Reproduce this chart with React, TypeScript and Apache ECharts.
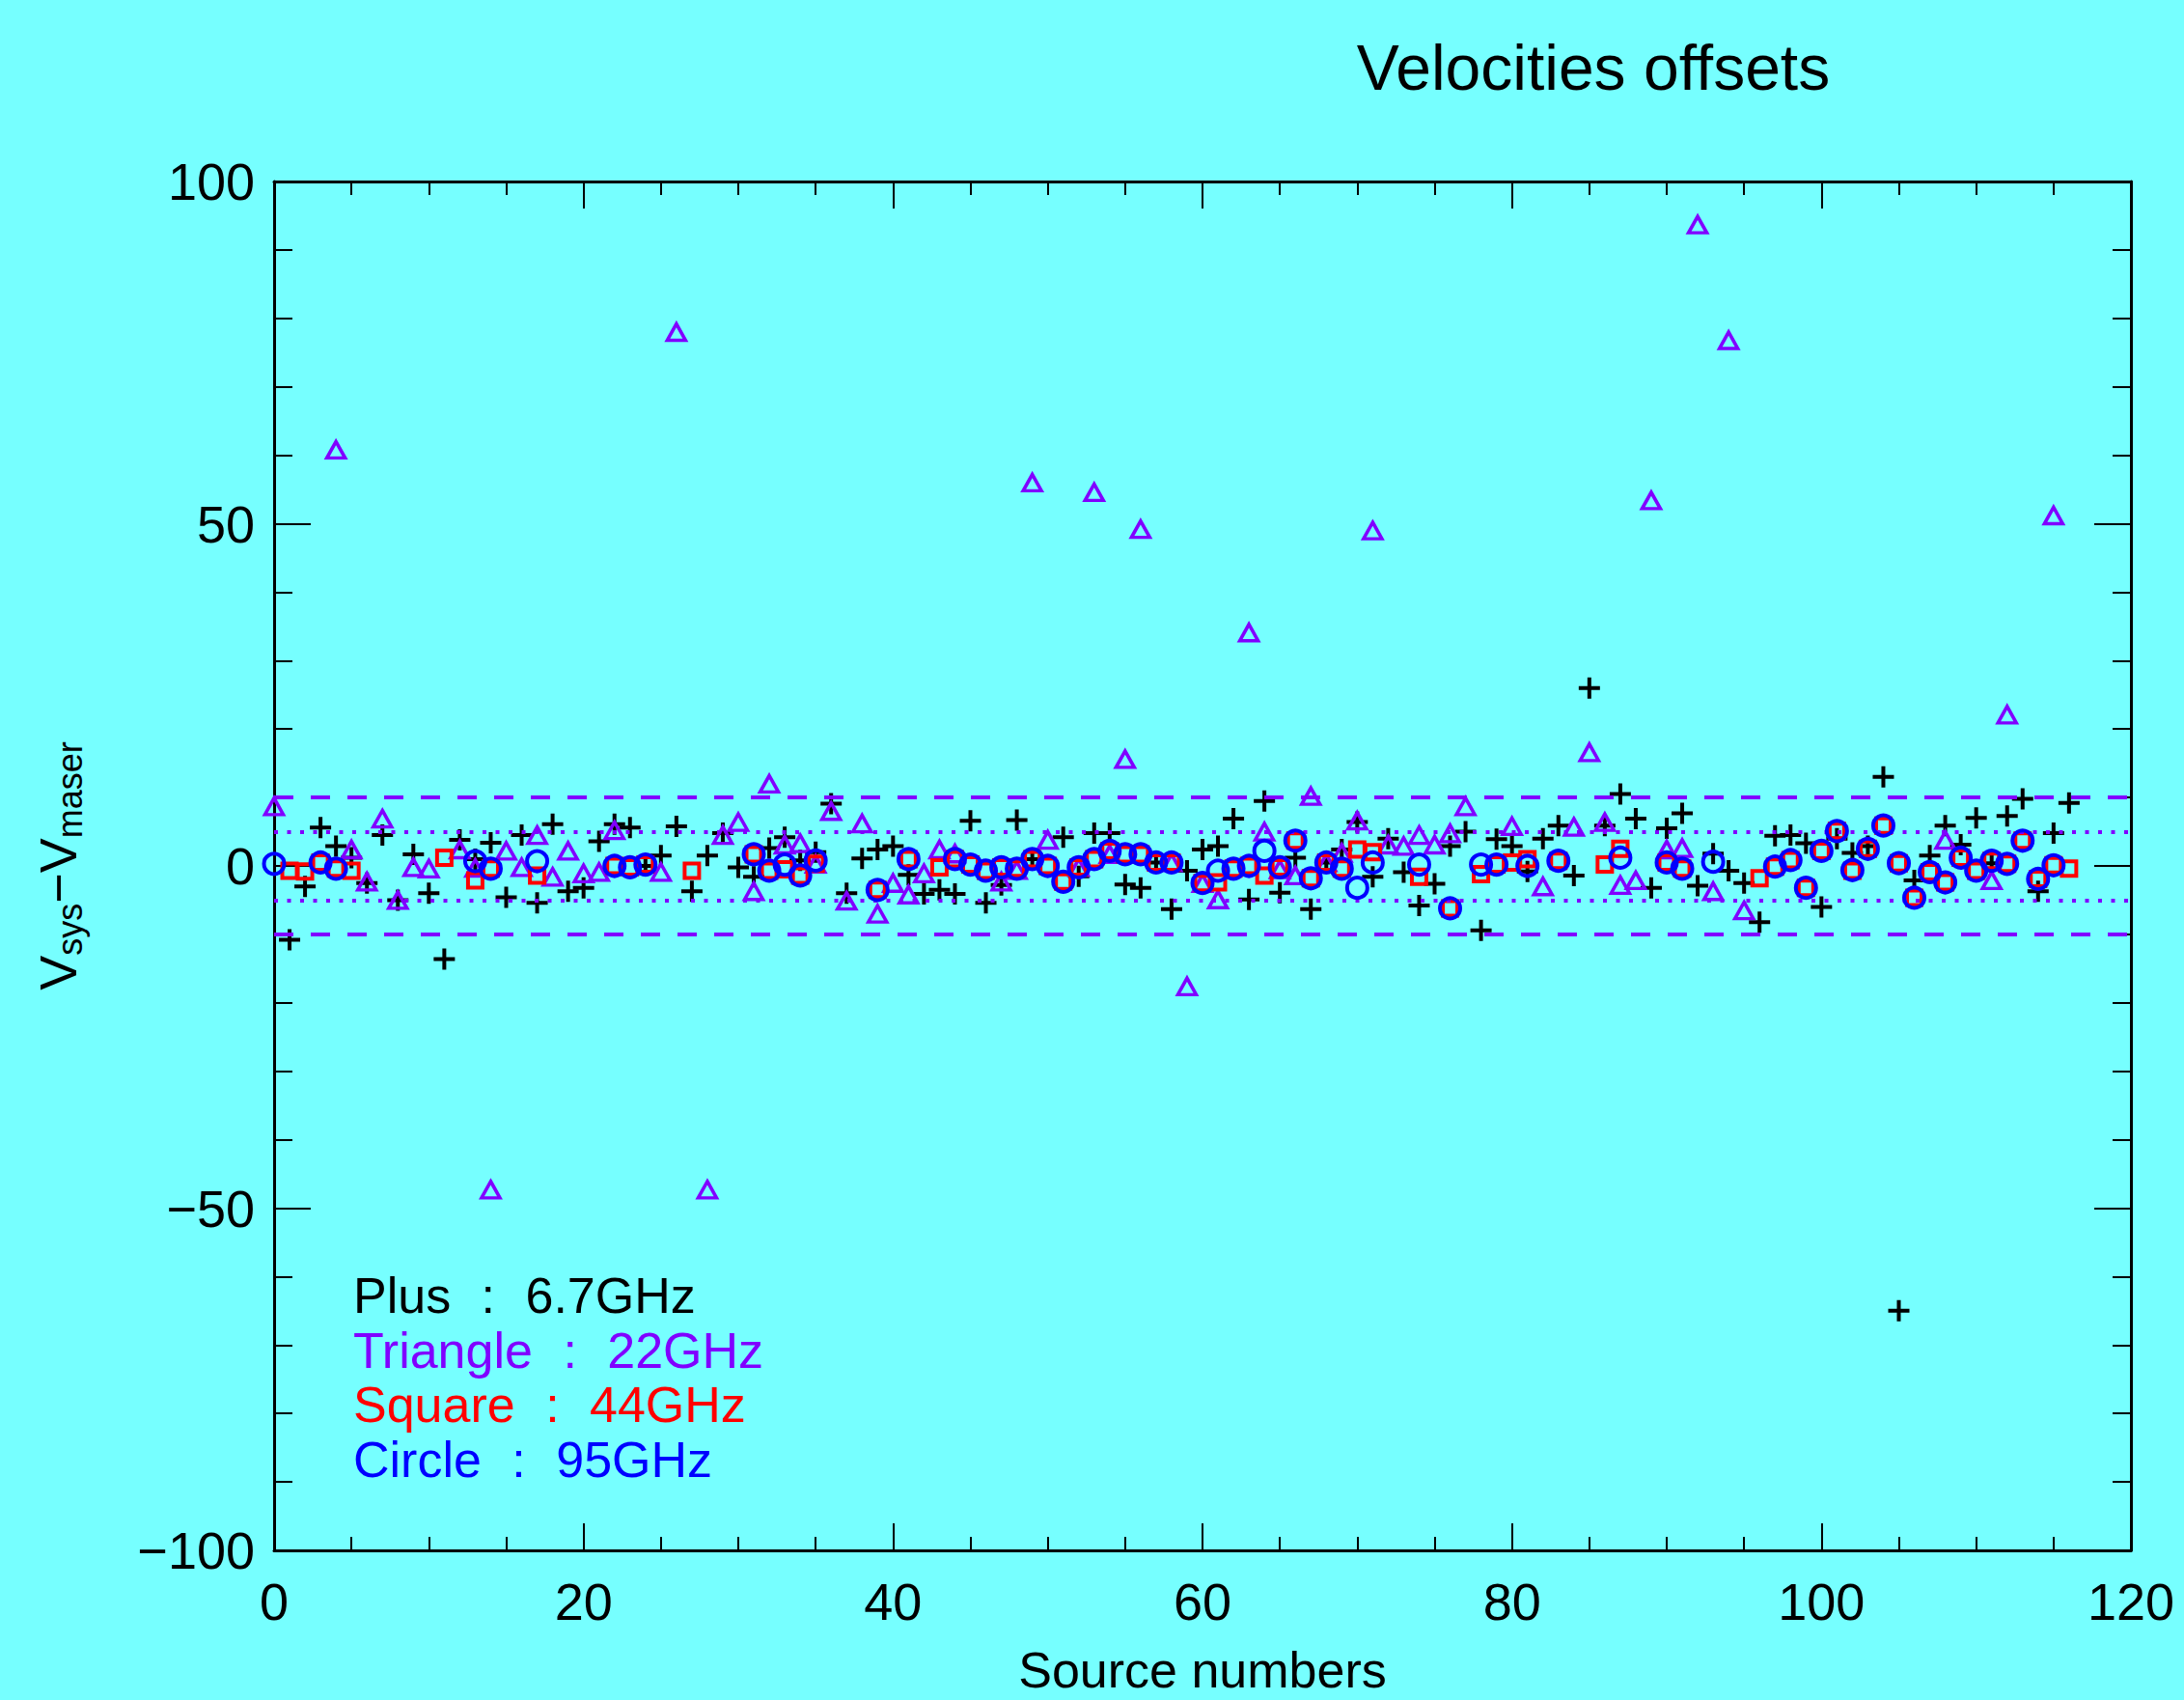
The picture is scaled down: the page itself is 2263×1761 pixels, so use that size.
import React, { useEffect, useRef } from 'react';
import * as echarts from 'echarts';

// [source number, Vsys - Vmaser]
const plus67: number[][] = [
  [1, -10.8], [2, -3.0], [3, 5.6], [4, 2.9], [5, 1.2], [6, -2.5], [7, 4.5], [8, -5.0], [9, 1.7], [10, -4.0],
  [11, -13.6], [12, 3.8], [13, 1.0], [14, 3.4], [15, -4.6], [16, 4.5], [17, -5.4], [18, 6.1], [19, -3.7], [20, -3.2],
  [21, 3.6], [22, 6.1], [23, 5.6], [24, 0.0], [25, 1.5], [26, 5.8], [27, -3.7], [28, 1.5], [29, 4.8], [30, -0.2],
  [31, -1.6], [32, 2.6], [33, 4.2], [34, 0.8], [35, 2.0], [36, 9.1], [37, -4.0], [38, 1.1], [39, 2.4], [40, 2.9],
  [41, -1.3], [42, -4.1], [43, -3.5], [44, -4.1], [45, 6.6], [46, -5.4], [47, -2.8], [48, 6.7], [49, 1.0],
  [51, 4.2], [52, -1.5], [53, 4.8], [54, 4.8], [55, -2.7], [56, -3.2], [57, 0.5], [58, -6.3], [59, -0.7], [60, 2.4],
  [61, 2.9], [62, 6.9], [63, -4.9], [64, 9.5], [65, -3.9], [66, 1.2], [67, -6.3], [68, 0.5], [69, 2.4], [70, 6.4],
  [71, -1.6], [72, 4.0], [73, -0.9], [74, -5.8], [75, -2.6], [76, 2.9], [77, 5.0], [78, -9.4], [79, 3.9], [80, 2.9],
  [81, -0.8], [82, 4.0], [83, 5.9], [84, -1.4], [85, 26.0], [86, 5.9], [87, 10.5], [88, 6.9], [89, -3.2], [90, 5.5],
  [91, 7.7], [92, -2.9], [93, 1.8], [94, -0.7], [95, -2.5], [96, -8.2], [97, 4.4], [98, 4.5], [99, 3.3], [100, -6.0],
  [101, 4.0], [102, 1.9], [103, 2.9], [104, 13.0], [105, -65.0], [106, -2.1], [107, 1.5], [108, 5.9], [109, 3.1], [110, 7.0],
  [111, 0.4], [112, 7.3], [113, 9.8], [114, -3.7], [115, 4.8], [116, 9.2],
];

const tri22: number[][] = [
  [0, 8.7], [4, 60.8], [5, 2.4], [6, -2.3], [7, 6.9], [8, -5.0], [9, -0.2], [10, -0.4], [12, 2.4], [13, -0.3], [14, -47.3],
  [15, 2.2], [16, -0.2], [17, 4.5], [18, -1.6], [19, 2.2], [20, -1.1], [21, -0.9], [22, 5.2], [25, -0.9], [26, 78.0],
  [28, -47.3], [29, 4.5], [30, 6.4], [31, -3.7], [32, 12.0], [33, 3.1], [34, 3.3], [35, 0.3], [36, 8.0], [37, -5.1],
  [38, 6.2], [39, -7.0], [40, -2.5], [41, -4.2], [42, -1.1], [43, 2.4], [44, 1.8], [47, -2.3], [48, -0.6], [49, 56.0],
  [50, 3.8], [52, -0.2], [53, 54.6], [54, 1.7], [55, 15.6], [56, 49.2], [58, 0.5], [59, -17.6], [60, -2.5], [61, -4.9],
  [63, 34.1], [64, 5.0], [65, -0.5], [66, -1.4], [67, 10.2], [68, 0.5], [69, 1.9], [70, 6.6], [71, 49.0], [72, 3.1],
  [73, 2.9], [74, 4.5], [75, 3.1], [76, 4.75], [77, 8.7], [80, 5.8], [82, -3.0], [84, 5.7], [85, 16.6], [86, 6.4],
  [87, -2.8], [88, -2.1], [89, 53.4], [90, 2.4], [91, 2.6], [92, 93.7], [93, -3.7], [94, 76.8], [95, -6.5], [108, 3.8],
  [111, -2.1], [112, 22.1], [115, 51.2],
];

const sq44: number[][] = [
  [1, -0.7], [2, -0.8], [3, 0.5], [4, -0.4], [5, -0.7], [11, 1.2], [13, -2.1], [14, -0.4], [17, -1.4], [22, 0.0],
  [23, -0.2], [24, 0.2], [27, -0.7], [31, 1.7], [32, -0.7], [33, -0.5], [34, -1.4], [35, 0.3], [39, -3.5], [41, 1.0],
  [43, -0.2], [44, 1.0], [45, 0.2], [46, -0.7], [47, -0.2], [48, -0.4], [49, 1.0], [50, 0.0], [51, -2.3], [52, -0.2],
  [53, 1.0], [54, 2.2], [55, 1.7], [56, 1.7], [57, 0.5], [58, 0.5], [60, -2.5], [61, -2.4], [62, -0.4], [63, 0.0],
  [64, -1.4], [65, -0.2], [66, 3.7], [67, -1.8], [68, 0.5], [69, -0.4], [70, 2.4], [71, 2.0], [74, -1.6], [76, -6.2],
  [78, -1.2], [79, 0.2], [80, 0.5], [81, 1.0], [83, 0.75], [86, 0.2], [87, 2.5], [90, 0.5], [91, -0.4], [96, -1.8],
  [97, -0.1], [98, 0.85], [99, -3.2], [100, 2.2], [101, 5.1], [102, -0.7], [103, 2.5], [104, 5.9], [105, 0.4], [106, -4.65],
  [107, -0.9], [108, -2.4], [109, 1.2], [110, -0.7], [111, 0.75], [112, 0.3], [113, 3.7], [114, -1.9], [115, 0.1], [116, -0.4],
];

const circ95: number[][] = [
  [0, 0.3], [3, 0.5], [4, -0.4], [13, 0.7], [14, -0.4], [17, 0.7], [22, 0.0], [23, -0.2], [24, 0.2], [31, 1.7],
  [32, -0.7], [33, 0.2], [34, -1.4], [35, 0.8], [39, -3.5], [41, 1.0], [44, 1.0], [45, 0.2], [46, -0.7], [47, -0.2],
  [48, -0.4], [49, 1.0], [50, 0.0], [51, -2.3], [52, -0.2], [53, 1.0], [54, 2.2], [55, 1.7], [56, 1.7], [57, 0.5],
  [58, 0.5], [60, -2.5], [61, -0.7], [62, -0.4], [63, 0.0], [64, 2.2], [65, -0.2], [66, 3.7], [67, -1.8], [68, 0.5],
  [69, -0.4], [70, -3.2], [71, 0.5], [74, 0.2], [76, -6.2], [78, 0.2], [79, 0.2], [81, 0.0], [83, 0.75], [87, 1.2],
  [90, 0.5], [91, -0.4], [93, 0.6], [97, -0.1], [98, 0.85], [99, -3.2], [100, 2.2], [101, 5.1], [102, -0.6], [103, 2.5],
  [104, 5.9], [105, 0.4], [106, -4.65], [107, -0.9], [108, -2.4], [109, 1.2], [110, -0.7], [111, 0.75], [112, 0.3], [113, 3.7],
  [114, -1.9], [115, 0.1],
];

const dashedLevels = [10, -10];
const dottedLevels = [5, -5];
const legendNames = ['Plus', 'Triangle', 'Square', 'Circle'];
const legendBands = ['6.7GHz', '22GHz', '44GHz', '95GHz'];

const BG = '#76ffff';
const PURPLE = '#8000ff';
const FONT = '"Liberation Sans", Arial, sans-serif';
const PLUS_PATH = 'path://M9,0h4v9h9v4h-9v9h-4v-9h-9v-4h9z';

export default function App() {
  const ref = useRef<HTMLDivElement>(null);
  useEffect(() => {
    if (!ref.current) return;
    const chart = echarts.init(ref.current, undefined, { renderer: 'svg' });
    const minus = (v: number) => (v < 0 ? '\u2212' + Math.abs(v) : String(v));
    const xBase = {
      type: 'value', min: 0, max: 120, interval: 20,
      axisLine: { show: true, onZero: false, lineStyle: { color: '#000', width: 3 } },
      axisTick: { show: true, inside: true, length: 28, lineStyle: { color: '#000', width: 2 } },
      minorTick: { show: true, splitNumber: 4, length: 14, lineStyle: { color: '#000', width: 2 } },
      splitLine: { show: false },
    };
    const yBase = {
      type: 'value', min: -100, max: 100, interval: 50,
      axisLine: { show: true, onZero: false, lineStyle: { color: '#000', width: 3 } },
      axisTick: { show: true, inside: true, length: 38, lineStyle: { color: '#000', width: 2 } },
      minorTick: { show: true, splitNumber: 5, length: 19, lineStyle: { color: '#000', width: 2 } },
      splitLine: { show: false },
    };
    const legendColors = ['#000000', PURPLE, '#ff0000', '#0000ff'];
    chart.setOption({
      animation: false,
      backgroundColor: BG,
      grid: { left: 284, top: 188, right: 55, bottom: 155, containLabel: false },
      xAxis: [
        {
          ...xBase, position: 'bottom',
          axisLabel: { show: true, margin: 26, color: '#000', fontSize: 54, fontFamily: FONT },
          name: 'Source numbers', nameLocation: 'middle', nameGap: 98,
          nameTextStyle: { color: '#000', fontSize: 52, fontFamily: FONT },
        },
        { ...xBase, position: 'top', axisLabel: { show: false } },
      ],
      yAxis: [
        {
          ...yBase, position: 'left',
          axisLabel: { show: true, margin: 20, color: '#000', fontSize: 54, fontFamily: FONT, formatter: minus },
        },
        { ...yBase, position: 'right', axisLabel: { show: false } },
      ],
      graphic: [
        {
          type: 'text', x: 1651, y: 70,
          style: { text: 'Velocities offsets', fill: '#000', font: `66px ${FONT}`, align: 'center', verticalAlign: 'middle' },
        },
        {
          type: 'text', x: 60, y: 897, rotation: Math.PI / 2,
          style: {
            text: '{v|V}{s|sys}{v|\u2212V}{s|maser}', align: 'center', verticalAlign: 'middle',
            rich: {
              v: { fill: '#000', fontSize: 54, fontFamily: FONT, lineHeight: 60 },
              s: { fill: '#000', fontSize: 36, fontFamily: FONT, lineHeight: 30, verticalAlign: 'bottom' },
            },
          },
        },
        ...legendNames.map((n, i) => ({
          type: 'text', x: 366, y: 1342 + i * 56.5,
          style: {
            text: `{t|${n} }{c|:}{t| ${legendBands[i]}}`, align: 'left', verticalAlign: 'middle',
            rich: {
              t: { fill: legendColors[i], fontSize: 52, fontFamily: FONT },
              c: { fill: legendColors[i], fontSize: 52, fontFamily: FONT, padding: [0, 17, 0, 17] },
            },
          },
        })),
      ],
      series: [
        {
          type: 'scatter', name: 'levels', data: [], z: 1, silent: true,
          markLine: {
            silent: true, symbol: ['none', 'none'], label: { show: false },
            data: [
              ...dashedLevels.map((v) => ({ yAxis: v, lineStyle: { color: PURPLE, width: 4, type: [20, 18] } })),
              ...dottedLevels.map((v) => ({ yAxis: v, lineStyle: { color: PURPLE, width: 4, type: [4, 9.5] } })),
            ],
          },
        },
        {
          type: 'scatter', name: 'Plus : 6.7GHz', data: plus67, z: 2,
          symbol: PLUS_PATH, symbolSize: 22,
          itemStyle: { color: '#000000', borderWidth: 0, opacity: 1 },
        },
        {
          type: 'scatter', name: 'Triangle : 22GHz', data: tri22, z: 3,
          symbol: 'triangle', symbolSize: [19, 17],
          itemStyle: { color: 'rgba(0,0,0,0)', borderColor: PURPLE, borderWidth: 3.5, opacity: 1 },
        },
        {
          type: 'scatter', name: 'Square : 44GHz', data: sq44, z: 4,
          symbol: 'rect', symbolSize: 15,
          itemStyle: { color: 'rgba(0,0,0,0)', borderColor: '#ff0000', borderWidth: 4, opacity: 1 },
        },
        {
          type: 'scatter', name: 'Circle : 95GHz', data: circ95, z: 5,
          symbol: 'circle', symbolSize: 21,
          itemStyle: { color: 'rgba(0,0,0,0)', borderColor: '#0000ff', borderWidth: 4, opacity: 1 },
        },
      ],
    });
    return () => chart.dispose();
  }, []);
  return (
    <div
      ref={ref}
      style={{ position: 'fixed', left: 0, top: 0, width: 2263, height: 1761 }}
    />
  );
}
